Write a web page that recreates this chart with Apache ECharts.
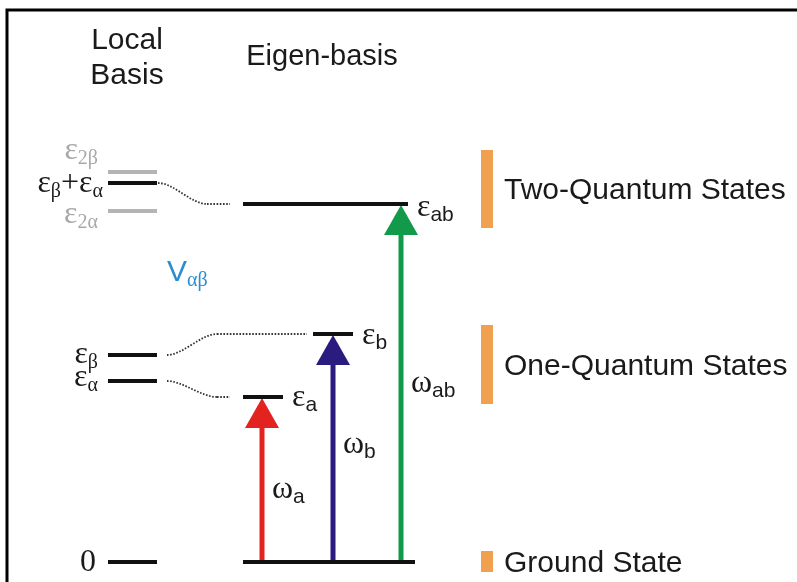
<!DOCTYPE html>
<html><head><meta charset="utf-8">
<script src="https://cdn.jsdelivr.net/npm/echarts@6/dist/echarts.min.js"></script>
<style>html,body{margin:0;padding:0;background:#fff}#c{width:797px;height:582px}</style>
</head><body><div id="c"></div>
<script>
// ---------------- data (energies, arbitrary units, ground state = 0) ----------------
const localLabels  = ['{e|ε}{sg|2β}', '{e|ε}{sg|β}{e|+ε}{sg|α}', '{e|ε}{sg|2α}', '{e|ε}{sg|β}', '{e|ε}{sg|α}', '{e|0}'];
const localEnergy  = [390, 379, 351, 207, 181, 0];
const localGray    = [true, false, true, false, false, false];

const eigenLabels  = ['', '{e|ε}{sl|a}', '{e|ε}{sl|b}', '{e|ε}{sl|ab}'];
const eigenEnergy  = [0, 165, 228, 358];

const transLabels  = ['{e|ω}{sl|a}', '{e|ω}{sl|b}', '{e|ω}{sl|ab}'];
const transFrom    = [0, 0, 0];
const transTo      = [165, 228, 358];

const couplingFrom = [379, 207, 181];   // local level energies
const couplingTo   = [358, 228, 165];   // eigen level energies

const bandNames    = ['Two-Quantum States', 'One-Quantum States', 'Ground State'];
const bandLow      = [334, 158, -10];
const bandHigh     = [412, 237, 11];

// ---------------- layout / style ----------------
const localX      = [108, 157];
const localLabelRight = [98, 103, 98, 98, 98, 96];
const localLabelDy = [-21, 1, 4, 0, -3, 1];
const eigenX      = [[243, 415], [243, 283], [313, 353], [243, 408]];
const eigenLabelDy = [0, 1, 2, 4];
const transX      = [262, 333, 401];
const transColors = ['#e2231f', '#2a1b7e', '#109a4a'];
const transLabelFrac = [0.42, 0.5, 0.49];
const couplingPts = [[158, 207, 230], [167, 217, 307], [167, 217, 230]];
const bandX = [481, 493];

const SERIF = '"Liberation Serif", "DejaVu Serif", serif';
const SANS  = '"Liberation Sans", Arial, sans-serif';
const INK = '#1a1a1a';
const rich = {
  e:  { fontFamily: SERIF, fontSize: 32, lineHeight: 36 },
  sg: { fontFamily: SERIF, fontSize: 20, lineHeight: 20, padding: [16, 0, 0, 0] },
  sl: { fontFamily: SANS,  fontSize: 21, lineHeight: 21, padding: [15, 0, 0, 0] },
  v:  { fontFamily: SANS,  fontSize: 30, lineHeight: 36 }
};

const chart = echarts.init(document.getElementById('c'), null, { renderer: 'canvas' });

function idx(n) { return Array.from({ length: n }, (_, i) => i); }

const option = {
  animation: false,
  backgroundColor: '#fff',
  grid: { left: 0, right: 0, top: 0, bottom: 0 },
  xAxis: { type: 'value', min: 0, max: 797, show: false },
  yAxis: { type: 'value', min: -20, max: 562, show: false },
  graphic: [
    { type: 'polyline', shape: { points: [[7, 582], [7, 10], [797, 10]] }, style: { stroke: '#000', lineWidth: 3, fill: null } },
    { type: 'text', x: 127, y: 41, style: { text: 'Local', font: '30px ' + SANS, fill: INK, align: 'center', verticalAlign: 'middle' } },
    { type: 'text', x: 127, y: 76, style: { text: 'Basis', font: '30px ' + SANS, fill: INK, align: 'center', verticalAlign: 'middle' } },
    { type: 'text', x: 322, y: 57, style: { text: 'Eigen-basis', font: '29px ' + SANS, fill: INK, align: 'center', verticalAlign: 'middle' } },
    { type: 'text', x: 167, y: 273, style: { text: '{v|V}{sg|αβ}', rich: rich, fill: '#2a8dd0', align: 'left', verticalAlign: 'middle' } }
  ],
  series: [
    // dotted coupling connectors
    {
      type: 'custom', coordinateSystem: 'cartesian2d', silent: true, clip: false,
      data: idx(couplingFrom.length).map(i => [couplingPts[i][0], couplingFrom[i], couplingPts[i][2], couplingTo[i]]),
      renderItem: function (params, api) {
        const i = params.dataIndex;
        const a = api.coord([api.value(0), api.value(1)]);
        const c = api.coord([couplingPts[i][1], api.value(3)]);
        const b = api.coord([api.value(2), api.value(3)]);
        const st = { stroke: '#333', lineWidth: 1.8, lineDash: [1.6, 1.6], fill: null };
        return { type: 'group', children: [
          { type: 'bezierCurve', shape: { x1: a[0], y1: a[1], x2: c[0], y2: c[1], cpx1: a[0] + 16, cpy1: a[1], cpx2: c[0] - 16, cpy2: c[1] }, style: st },
          { type: 'line', shape: { x1: c[0], y1: c[1], x2: b[0], y2: b[1] }, style: st }
        ] };
      }
    },
    // transition arrows
    {
      type: 'custom', coordinateSystem: 'cartesian2d', silent: true, clip: false,
      data: idx(transTo.length).map(i => [transX[i], transFrom[i], transTo[i]]),
      renderItem: function (params, api) {
        const i = params.dataIndex;
        const p0 = api.coord([api.value(0), api.value(1)]);
        const p1 = api.coord([api.value(0), api.value(2)]);
        const col = transColors[i];
        const tip = p1[1] + 1, hl = 30, hw = 17;
        const lab = api.coord([api.value(0), api.value(1) + (api.value(2) - api.value(1)) * transLabelFrac[i]]);
        return { type: 'group', children: [
          { type: 'line', shape: { x1: p0[0], y1: p0[1], x2: p0[0], y2: tip + hl - 2 }, style: { stroke: col, lineWidth: 5 } },
          { type: 'polygon', shape: { points: [[p0[0], tip], [p0[0] - hw, tip + hl], [p0[0] + hw, tip + hl]] }, style: { fill: col } },
          { type: 'text', x: p0[0] + 10, y: lab[1] - 3, style: { text: transLabels[i], rich: rich, fill: INK, align: 'left', verticalAlign: 'middle' } }
        ] };
      }
    },
    // local basis levels
    {
      type: 'custom', coordinateSystem: 'cartesian2d', silent: true, clip: false,
      data: idx(localEnergy.length).map(i => [localX[0], localX[1], localEnergy[i]]),
      renderItem: function (params, api) {
        const i = params.dataIndex;
        const a = api.coord([api.value(0), api.value(2)]);
        const b = api.coord([api.value(1), api.value(2)]);
        const col = localGray[i] ? '#b4b4b4' : '#111';
        return { type: 'group', children: [
          { type: 'line', shape: { x1: a[0], y1: a[1], x2: b[0], y2: b[1] }, style: { stroke: col, lineWidth: 4 } },
          { type: 'text', x: localLabelRight[i], y: a[1] + localLabelDy[i], style: { text: localLabels[i], rich: rich, fill: localGray[i] ? '#a8a8a8' : INK, align: 'right', verticalAlign: 'middle' } }
        ] };
      }
    },
    // eigen basis levels
    {
      type: 'custom', coordinateSystem: 'cartesian2d', silent: true, clip: false,
      data: idx(eigenEnergy.length).map(i => [eigenX[i][0], eigenX[i][1], eigenEnergy[i]]),
      renderItem: function (params, api) {
        const i = params.dataIndex;
        const a = api.coord([api.value(0), api.value(2)]);
        const b = api.coord([api.value(1), api.value(2)]);
        const ch = [{ type: 'line', shape: { x1: a[0], y1: a[1], x2: b[0], y2: b[1] }, style: { stroke: '#111', lineWidth: 4 } }];
        if (eigenLabels[i]) ch.push({ type: 'text', x: b[0] + 9, y: a[1] + eigenLabelDy[i], style: { text: eigenLabels[i], rich: rich, fill: INK, align: 'left', verticalAlign: 'middle' } });
        return { type: 'group', children: ch };
      }
    },
    // state bands
    {
      type: 'custom', coordinateSystem: 'cartesian2d', silent: true, clip: false,
      data: idx(bandNames.length).map(i => [bandX[0], bandX[1], bandLow[i], bandHigh[i]]),
      renderItem: function (params, api) {
        const i = params.dataIndex;
        const tl = api.coord([api.value(0), api.value(3)]);
        const br = api.coord([api.value(1), api.value(2)]);
        return { type: 'group', children: [
          { type: 'rect', shape: { x: tl[0], y: tl[1], width: br[0] - tl[0], height: br[1] - tl[1] }, style: { fill: '#f0a04f' } },
          { type: 'text', x: br[0] + 11, y: (tl[1] + br[1]) / 2 + 2, style: { text: bandNames[i], font: '30px ' + SANS, fill: INK, align: 'left', verticalAlign: 'middle' } }
        ] };
      }
    }
  ]
};
chart.setOption(option);
</script>
</body></html>
